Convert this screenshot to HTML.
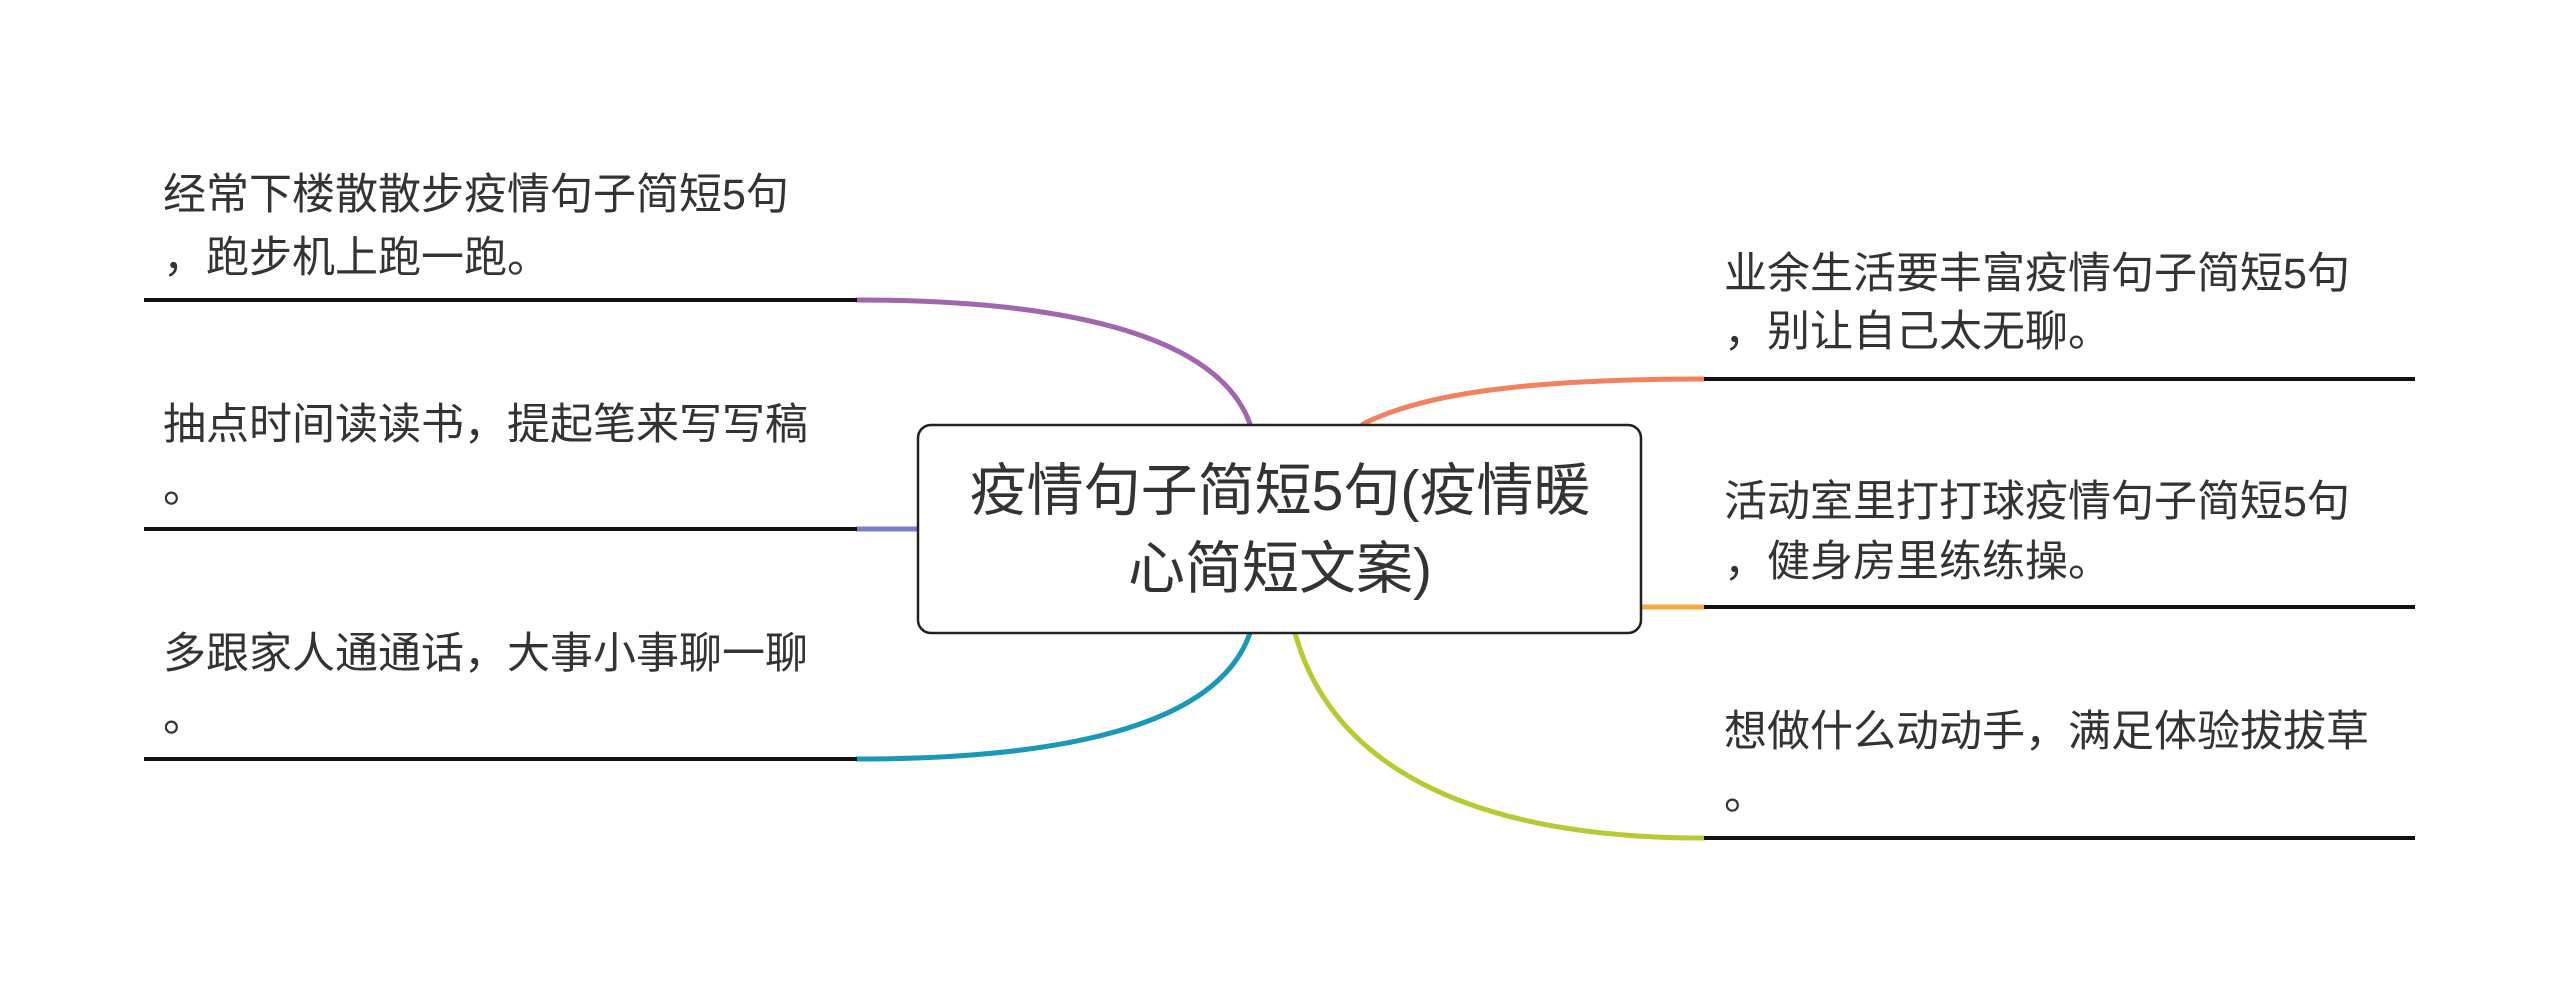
<!DOCTYPE html>
<html><head><meta charset="utf-8"><style>
html,body{margin:0;padding:0;background:#fff;}
svg{display:block}
text{font-family:"Liberation Sans","Noto Sans CJK SC",sans-serif;fill:#333;}
</style></head><body>
<svg width="2560" height="981" viewBox="0 0 2560 981" xmlns="http://www.w3.org/2000/svg">
<g fill="none" stroke-width="5" stroke-linecap="round">
<path d="M857 300 C1080 300 1220 340 1250 424" stroke="#a066b0"/>
<path d="M857 529 L917 529" stroke="#7b7fc6"/>
<path d="M857 759 C1080 759 1220 720 1250 633" stroke="#1a98b8"/>
<path d="M1363 424 C1420 395 1520 379 1704 379" stroke="#f2825f"/>
<path d="M1642 607 L1704 607" stroke="#f6aa3c"/>
<path d="M1295 633 C1330 760 1460 838 1704 838" stroke="#b7c934"/>
</g>
<g stroke="#111" stroke-width="4">
<line x1="144" y1="300" x2="857" y2="300"/>
<line x1="144" y1="529" x2="857" y2="529"/>
<line x1="144" y1="759" x2="857" y2="759"/>
<line x1="1704" y1="379" x2="2415" y2="379"/>
<line x1="1704" y1="607" x2="2415" y2="607"/>
<line x1="1704" y1="838" x2="2415" y2="838"/>
</g>
<rect x="918" y="425" width="723" height="208" rx="13" fill="#fff" stroke="#222" stroke-width="2.5"/>
<g font-size="57" text-anchor="middle">
<text x="1280" y="510">疫情句子简短5句(疫情暖</text>
<text x="1280" y="588">心简短文案)</text>
</g>
<g font-size="43">
<text x="163" y="209">经常下楼散散步疫情句子简短5句</text>
<text x="163" y="272">，跑步机上跑一跑。</text>
<text x="163" y="439">抽点时间读读书，提起笔来写写稿</text>
<text x="163" y="502">。</text>
<text x="163" y="668">多跟家人通通话，大事小事聊一聊</text>
<text x="163" y="731">。</text>
<text x="1724" y="288">业余生活要丰富疫情句子简短5句</text>
<text x="1724" y="346">，别让自己太无聊。</text>
<text x="1724" y="516">活动室里打打球疫情句子简短5句</text>
<text x="1724" y="576">，健身房里练练操。</text>
<text x="1724" y="746">想做什么动动手，满足体验拔拔草</text>
<text x="1724" y="809">。</text>
</g>
</svg>
</body></html>
